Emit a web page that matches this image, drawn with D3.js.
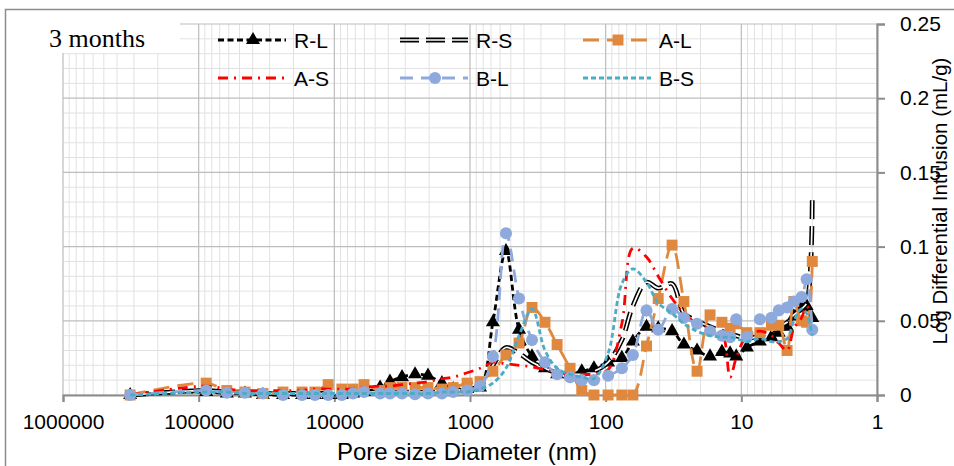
<!DOCTYPE html>
<html>
<head>
<meta charset="utf-8">
<script src="https://cdn.jsdelivr.net/npm/d3@7"></script>
<style>
  body { margin: 0; background: #fff; }
  svg { display: block; }
  text { font-family: "Liberation Sans", Arial, sans-serif; fill: #000; }
</style>
</head>
<body>
<svg id="chart" width="954" height="466"></svg>
<script>
// pore diameters (nm), shared by all six samples
var diameters = [320000, 88000, 62000, 45600, 33600, 23900, 17300, 13900, 11100, 8800,
  7280, 6040, 4600, 3890, 3170, 2540, 2040, 1610, 1330, 1050,
  843, 678, 543, 435, 349, 280, 228, 183, 150, 122,
  96, 76, 63, 50, 41, 32.4, 26.5, 21.2, 17.0, 13.9,
  12.1, 10.9, 9.1, 7.3, 6.0, 5.3, 4.6, 4.1, 3.6, 3.3, 3.0];

var valuesRL = [0, 0.002, 0.001, 0.001, 0, 0, 0, 0, 0, 0,
  0.001, 0.002, 0.005, 0.009, 0.012, 0.014, 0.013, 0.008, 0.004, 0.004,
  0.005, 0.049, 0.097, 0.044, 0.026, 0.018, 0.014, 0.014, 0.016, 0.018,
  0.022, 0.025, 0.036, 0.046, 0.045, 0.043, 0.034, 0.030, 0.026, 0.029,
  0.028, 0.026, 0.032, 0.036, 0.039, 0.042, 0.046, 0.053, 0.059, 0.060, 0.052];

var valuesRS = [0, 0.003, 0.002, 0.002, 0.001, 0.001, 0.001, 0.001, 0.001, 0.001,
  0.001, 0.002, 0.002, 0.002, 0.002, 0.002, 0.002, 0.002, 0.003, 0.004,
  0.006, 0.020, 0.032, 0.028, 0.022, 0.018, 0.015, 0.014, 0.014, 0.016,
  0.022, 0.037, 0.060, 0.076, 0.072, 0.075, 0.055, 0.050, 0.046, 0.043,
  0.041, 0.040, 0.038, 0.040, 0.043, 0.046, 0.049, 0.054, 0.058, 0.062, 0.132];

var valuesAL = [0, 0.008, 0.003, 0.002, 0.001, 0.002, 0.002, 0.002, 0.007, 0.004,
  0.004, 0.007, 0.003, 0.005, 0.005, 0.005, 0.005, 0.004, 0.005, 0.008,
  0.009, 0.016, 0.027, 0.035, 0.059, 0.049, 0.034, 0.018, 0.003, 0,
  0, 0, 0, 0.033, 0.065, 0.101, 0.063, 0.016, 0.054, 0.049,
  0.045, 0.048, 0.042, 0.042, 0.047, 0.047, 0.030, 0.063, 0.050, 0.049, 0.090];

var valuesAS = [0, 0.006, 0.004, 0.003, 0.003, 0.003, 0.003, 0.004, 0.004, 0.004,
  0.004, 0.005, 0.006, 0.006, 0.007, 0.008, 0.009, 0.011, 0.012, 0.015,
  0.018, 0.022, 0.021, 0.020, 0.019, 0.017, 0.015, 0.014, 0.014, 0.014,
  0.017, 0.048, 0.099, 0.093, 0.080, 0.065, 0.055, 0.048, 0.045, 0.042,
  0.012, 0.025, 0.040, 0.043, 0.040, 0.035, 0.030, 0.045, 0.052, 0.060, 0.050];

var valuesBL = [0, 0.003, 0.0015, 0.0015, 0.001, 0, 0, 0, 0, 0,
  0.001, 0.002, 0.001, 0.001, 0.001, 0.0005, 0.001, 0.001, 0.002, 0.003,
  0.006, 0.026, 0.109, 0.065, 0.037, 0.022, 0.014, 0.012, 0.010, 0.010,
  0.013, 0.018, 0.027, 0.057, 0.044, 0.058, 0.052, 0.048, 0.043, 0.040,
  0.039, 0.051, 0.039, 0.051, 0.052, 0.057, 0.059, 0.063, 0.066, 0.078, 0.044];

var valuesBS = [0, 0.002, 0.002, 0.001, 0.001, 0.001, 0.001, 0.001, 0.001, 0.001,
  0.001, 0.001, 0.001, 0.001, 0.001, 0.001, 0.001, 0.002, 0.002, 0.002,
  0.004, 0.008, 0.018, 0.040, 0.058, 0.030, 0.018, 0.014, 0.012, 0.011,
  0.028, 0.075, 0.085, 0.076, 0.062, 0.055, 0.048, 0.043, 0.040, 0.039,
  0.039, 0.038, 0.036, 0.038, 0.036, 0.036, 0.038, 0.050, 0.058, 0.055, 0.040];

var seriesNames = ["R-L", "R-S", "A-L", "A-S", "B-L", "B-S"];
var xTickValues = [1000000, 100000, 10000, 1000, 100, 10, 1];
var yTickValues = [0, 0.05, 0.1, 0.15, 0.2, 0.25];
var yTickLabels = ["0", "0.05", "0.1", "0.15", "0.2", "0.25"];

var styles = {
  "R-L": { color: "#000", width: 2.8, dash: "6,3.5", marker: d3.symbolTriangle, msize: 85 },
  "R-S": { color: "#000", width: 4.8, dash: "19,7", double: true },
  "A-L": { color: "#E0883E", width: 2.8, dash: "16,8", marker: d3.symbolSquare, msize: 120 },
  "A-S": { color: "#FF0000", width: 2.8, dash: "10,6,2,6" },
  "B-L": { color: "#8EA9DB", width: 2.8, dash: "13,8", marker: d3.symbolCircle, msize: 115 },
  "B-S": { color: "#4BACC6", width: 2.8, dash: "5,3" }
};
var seriesValues = {
  "R-L": valuesRL, "R-S": valuesRS, "A-L": valuesAL,
  "A-S": valuesAS, "B-L": valuesBL, "B-S": valuesBS
};

var svg = d3.select("#chart");
var x = d3.scaleLog().domain([1e6, 1]).range([63, 877]);
var y = d3.scaleLinear().domain([0, 0.25]).range([395, 24]);

// outer frame
svg.append("rect").attr("x", 5.5).attr("y", 9.5).attr("width", 1000).attr("height", 1000)
  .attr("fill", "none").attr("stroke", "#8c8c8c").attr("stroke-width", 1.5);

// grid
var grid = svg.append("g");
var minorX = [];
xTickValues.slice(1).forEach(function(d) {
  for (var k = 2; k <= 9; k++) minorX.push(d * k);
});
grid.selectAll(".vminor").data(minorX).enter().append("line")
  .attr("x1", function(d) { return x(d); }).attr("x2", function(d) { return x(d); })
  .attr("y1", y(0.25)).attr("y2", y(0))
  .attr("stroke", "#e2e2e2").attr("stroke-width", 1);
var minorY = d3.range(1, 25).filter(function(i) { return i % 5 !== 0; }).map(function(i) { return i / 100; });
grid.selectAll(".hminor").data(minorY).enter().append("line")
  .attr("x1", x(1e6)).attr("x2", x(1))
  .attr("y1", function(d) { return y(d); }).attr("y2", function(d) { return y(d); })
  .attr("stroke", "#e2e2e2").attr("stroke-width", 1);
grid.selectAll(".vmajor").data(xTickValues).enter().append("line")
  .attr("x1", function(d) { return x(d); }).attr("x2", function(d) { return x(d); })
  .attr("y1", y(0.25)).attr("y2", y(0))
  .attr("stroke", "#bdbdbd").attr("stroke-width", 1.2);
grid.selectAll(".hmajor").data(yTickValues).enter().append("line")
  .attr("x1", x(1e6)).attr("x2", x(1))
  .attr("y1", function(d) { return y(d); }).attr("y2", function(d) { return y(d); })
  .attr("stroke", "#bdbdbd").attr("stroke-width", 1.2);

// axes
var xAxis = d3.axisBottom(x).tickValues(xTickValues).tickFormat(d3.format("d")).tickSize(7).tickPadding(12);
var gx = svg.append("g").attr("transform", "translate(0,395)").call(xAxis);
gx.select(".domain").attr("stroke", "#8c8c8c").attr("stroke-width", 2);
gx.selectAll(".tick line").attr("stroke", "#8c8c8c").attr("stroke-width", 2);
gx.selectAll(".tick text").attr("font-size", 21).attr("font-family", "Liberation Sans, Arial, sans-serif");

var yAxis = d3.axisRight(y).tickValues(yTickValues)
  .tickFormat(function(d, i) { return yTickLabels[i]; }).tickSize(8).tickPadding(15);
var gy = svg.append("g").attr("transform", "translate(877,0)").call(yAxis);
gy.select(".domain").attr("stroke", "#8c8c8c").attr("stroke-width", 2);
gy.selectAll(".tick line").attr("stroke", "#8c8c8c").attr("stroke-width", 2);
gy.selectAll(".tick text").attr("font-size", 21).attr("font-family", "Liberation Sans, Arial, sans-serif");

// series
var line = d3.line()
  .x(function(d) { return x(d[0]); })
  .y(function(d) { return y(d[1]); })
  .curve(d3.curveCatmullRom.alpha(0.5));

var plot = svg.append("g");
seriesNames.forEach(function(name) {
  var st = styles[name];
  var pts = diameters.map(function(d, i) { return [d, seriesValues[name][i]]; });
  var g = plot.append("g");
  g.append("path").attr("d", line(pts))
    .attr("fill", "none").attr("stroke", st.color)
    .attr("stroke-width", st.width).attr("stroke-dasharray", st.dash);
  if (st.double) {
    g.append("path").attr("d", line(pts))
      .attr("fill", "none").attr("stroke", "#fff")
      .attr("stroke-width", 1.7).attr("stroke-dasharray", st.dash);
  }
  if (st.marker) {
    g.selectAll(".m").data(pts).enter().append("path")
      .attr("d", d3.symbol(st.marker).size(st.msize))
      .attr("transform", function(d) { return "translate(" + x(d[0]) + "," + y(d[1]) + ")"; })
      .attr("fill", st.color);
  }
});

// "3 months" label
svg.append("rect").attr("x", 45).attr("y", 23).attr("width", 135).attr("height", 30).attr("fill", "#fff");
svg.append("text").attr("x", 49).attr("y", 47)
  .style("font-family", "'Liberation Serif', 'Times New Roman', serif")
  .attr("font-size", 26).text("3 months");

// legend
var legendCols = [218, 400, 583];
var legendRows = [40, 78];
seriesNames.forEach(function(name, i) {
  var st = styles[name];
  var lx = legendCols[i % 3], ly = legendRows[Math.floor(i / 3)];
  var g = svg.append("g");
  g.append("line").attr("x1", lx).attr("x2", lx + 68).attr("y1", ly).attr("y2", ly)
    .attr("stroke", st.color).attr("stroke-width", st.width).attr("stroke-dasharray", st.dash);
  if (st.double) {
    g.append("line").attr("x1", lx).attr("x2", lx + 68).attr("y1", ly).attr("y2", ly)
      .attr("stroke", "#fff").attr("stroke-width", 1.7).attr("stroke-dasharray", st.dash);
  }
  if (st.marker) {
    g.append("path").attr("d", d3.symbol(st.marker).size(st.msize))
      .attr("transform", "translate(" + (lx + 35) + "," + ly + ")").attr("fill", st.color);
  }
  g.append("text").attr("x", lx + 76).attr("y", ly + 8).attr("font-size", 21).text(name);
});

// axis titles
svg.append("text").attr("x", 467).attr("y", 460).attr("text-anchor", "middle")
  .attr("font-size", 24).text("Pore size Diameter (nm)");
svg.append("text").attr("transform", "translate(947,201) rotate(-90)").attr("text-anchor", "middle")
  .attr("font-size", 20.5).text("Log Differential Intrusion (mL/g)");
</script>
</body>
</html>
